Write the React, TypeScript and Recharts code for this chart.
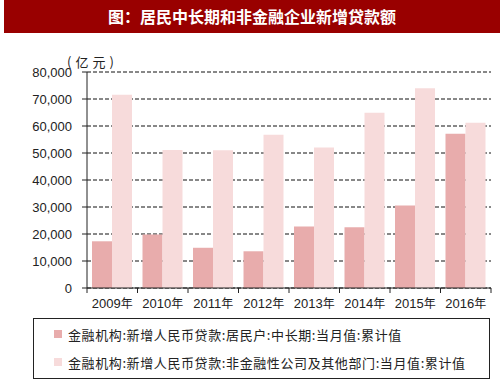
import { BarChart, Bar, XAxis, YAxis, CartesianGrid } from "recharts";

const years = ["2009年", "2010年", "2011年", "2012年", "2013年", "2014年", "2015年", "2016年"];
const householdLong = [17300, 19800, 14900, 13600, 22800, 22500, 30600, 57100];
const corporate = [71600, 51100, 51000, 56800, 52000, 64900, 74000, 61200];
const yTicks = [0, 10000, 20000, 30000, 40000, 50000, 60000, 70000, 80000];

const seriesNames = [
  "金融机构:新增人民币贷款:居民户:中长期:当月值:累计值",
  "金融机构:新增人民币贷款:非金融性公司及其他部门:当月值:累计值",
];
const COLORS = ["#E8ACAC", "#F7DBDB"];

const data = years.map((year, i) => ({
  year,
  household: householdLong[i],
  corporate: corporate[i],
}));

const LATIN = "'Liberation Sans', Arial, sans-serif";
const CJK = "'Noto Sans CJK SC', sans-serif";

function XTick(props: any) {
  const { x, y, payload, index } = props;
  const off = payload.offset ?? 25.2;
  return (
    <g>
      <line x1={x - off} y1={y} x2={x - off} y2={y + 5} stroke="#222" />
      {index === years.length - 1 && (
        <line x1={x + off} y1={y} x2={x + off} y2={y + 5} stroke="#222" />
      )}
      <text x={x} y={y + 20} textAnchor="middle" fontSize={13} fill="#222" fontFamily={LATIN}>
        {payload.value.replace("年", "")}
        <tspan fontFamily={CJK} fontSize={12}>年</tspan>
      </text>
    </g>
  );
}

export default function App() {
  return (
    <div style={{ position: "absolute", left: 0, top: 0, width: 500, height: 385, background: "#fff", overflow: "hidden" }}>
      <div
        style={{
          position: "absolute",
          left: 4,
          top: 0,
          width: 496,
          height: 33,
          background: "#990000",
          color: "#fff",
          fontFamily: CJK,
          fontWeight: 700,
          fontSize: 16,
          lineHeight: "33px",
          textAlign: "center",
        }}
      >
        图：居民中长期和非金融企业新增贷款额
      </div>
      <div style={{ position: "absolute", left: 67, top: 52, fontFamily: CJK, fontSize: 13, color: "#222", letterSpacing: 4 }}>
        (亿元)
      </div>
      <div style={{ position: "absolute", left: 0, top: 0 }}>
        <BarChart
          width={500}
          height={318}
          data={data}
          margin={{ top: 72, right: 9, left: 0, bottom: 0 }}
          barGap={0}
          barSize={20}
        >
          <CartesianGrid vertical={false} stroke="#111" strokeDasharray="4 2" strokeWidth={1} />
          <XAxis
            dataKey="year"
            height={30}
            axisLine={{ stroke: "#222" }}
            tickLine={false}
            tickSize={0}
            tickMargin={0}
            tick={<XTick />}
            interval={0}
          />
          <YAxis
            width={87}
            domain={[0, 80000]}
            ticks={yTicks}
            interval={0}
            axisLine={{ stroke: "#222" }}
            tickLine={{ stroke: "#222" }}
            tickSize={5}
            tickMargin={10}
            tick={{ fontSize: 13, fill: "#222", fontFamily: LATIN }}
            tickFormatter={(v: number) => v.toLocaleString("en-US")}
          />
          <Bar dataKey="household" fill={COLORS[0]} isAnimationActive={false} />
          <Bar dataKey="corporate" fill={COLORS[1]} isAnimationActive={false} />
        </BarChart>
      </div>
      <div
        style={{
          position: "absolute",
          left: 33,
          top: 318,
          width: 455,
          height: 59,
          border: "1.5px solid #222",
          fontFamily: CJK,
          fontSize: 13,
          color: "#222",
          letterSpacing: 0.6,
        }}
      >
        {seriesNames.map((name, i) => (
          <div
            key={name}
            style={{ position: "absolute", left: 20, top: 5 + i * 28, height: 20, display: "flex", alignItems: "center" }}
          >
            <span style={{ display: "inline-block", width: 8, height: 8, background: COLORS[i], marginRight: 6 }} />
            <span>{name}</span>
          </div>
        ))}
      </div>
    </div>
  );
}
